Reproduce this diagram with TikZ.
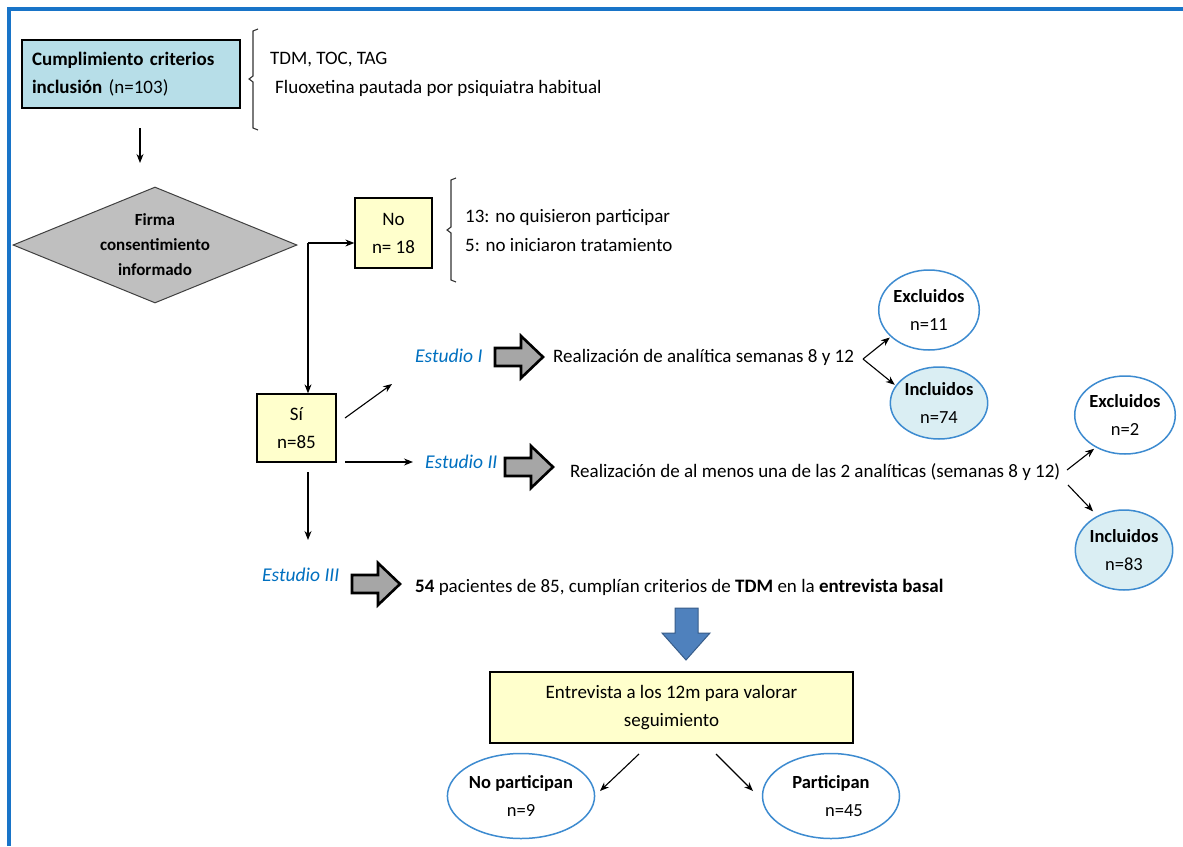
\documentclass[tikz,border=0pt]{standalone}
\usepackage{fontspec}
\setmainfont{Carlito}
\usetikzlibrary{shapes.geometric,arrows.meta}
\definecolor{frameblue}{HTML}{1874C8}
\definecolor{boxblue}{HTML}{B7DEE8}
\definecolor{ylw}{HTML}{FFFFCC}
\definecolor{ellb}{HTML}{3D8BD0}
\definecolor{inclfill}{HTML}{DAEEF3}
\definecolor{estblue}{HTML}{0070C0}
\definecolor{arrgray}{HTML}{A6A6A6}
\definecolor{bluearr}{HTML}{4F81BD}
\definecolor{bluearrb}{HTML}{385D8A}
\definecolor{diagray}{HTML}{BFBFBF}
\tikzset{
  txt/.style={font=\fontsize{19}{28}\selectfont, inner sep=0, align=left},
  ybox/.style={draw, line width=1.3pt, fill=ylw, align=center, inner sep=0,
    font=\fontsize{19}{28}\selectfont},
  ell/.style={ellipse, draw=ellb, line width=1.5pt, fill=white, align=center, inner sep=0,
    font=\fontsize{18.5}{28}\selectfont},
  incl/.style={ell, fill=inclfill},
  arr/.style={-{Stealth[length=9pt,width=7pt]}, line width=1.1pt},
  est/.style={font=\fontsize{19.5}{22}\selectfont\itshape, text=estblue, inner sep=0},
  brace/.style={line width=1.1pt, draw=black!80},
  barrow/.pic={\draw[line width=2.6pt, fill=arrgray, line join=miter]
     (0,-9)--(26,-9)--(26,-21)--(48,0)--(26,21)--(26,9)--(0,9)--cycle;}
}
\begin{document}
\begin{tikzpicture}[x=1pt,y=-1pt]
\useasboundingbox[fill=white] (0,0) rectangle (1183,846);
% frame
\draw[frameblue, line width=4pt] (9,846) -- (9,9) -- (1183,9);

% inclusion box
\node[draw, line width=1.3pt, fill=boxblue, text width=198, inner xsep=10, inner ysep=0,
  minimum height=68, align=left, font=\fontsize{19}{28}\selectfont]
  (incl) at (131,74) {\textbf{Cumplimiento criterios}\\\textbf{inclusión} (n=103)};
\draw[brace] (258,29) -- (253,31) -- (253,76) -- (249,79) -- (253,82) -- (253,128) -- (258,130);
\node[txt, anchor=west] (t1) at (270,60) {TDM, TOC, TAG};
\node[txt, anchor=west] (t2) at (275,88) {Fluoxetina pautada por psiquiatra habitual};

% diamond
\node[diamond, aspect=2.4, draw=black!75, line width=1pt, fill=diagray, minimum width=284,
  minimum height=116, inner sep=0, align=center,
  font=\fontsize{17}{25}\selectfont\bfseries] (dia) at (155,245)
  {Firma\\consentimiento\\informado};
\coordinate (a0) at (140,128);
\coordinate (a1) at (140,163);
\draw[arr] (a0) -- (a1);

% No box
\node[ybox, minimum width=77, minimum height=70] (no) at (393.5,233) {No\\n= 18};
\draw[brace] (456,178) -- (451,180) -- (451,227) -- (447,230) -- (451,233) -- (451,280) -- (456,282);
\node[txt, anchor=west] (t3) at (465,217) {13: no quisieron participar};
\node[txt, anchor=west] (t4) at (465,245) {5: no iniciaron tratamiento};

% Si box
\node[ybox, minimum width=79, minimum height=68] (si) at (296.5,428) {Sí\\n=85};
\coordinate (j) at (308,243);
\draw[arr] (j) -- (j -| no.west);
\draw[arr] (j) -- (j |- si.north);

% Estudio I
\coordinate (s1) at (345,418);
\coordinate (e1) at (392,384);
\draw[arr] (s1) -- (e1);
\node[est, anchor=west] (est1) at (415,356) {Estudio I};
\pic at (495,357) {barrow};
\node[txt, anchor=west] (r1) at (553,357) {Realización de analítica semanas 8 y 12};
\node[ell, minimum width=94, minimum height=80] (ex1) at (929,310) {\textbf{Excluidos}\\n=11};
\node[incl, minimum width=96, minimum height=72] (in1) at (939,403) {\textbf{Incluidos}\\n=74};
\coordinate (b1) at (863,359);
\draw[arr, shorten >=1pt] (b1) -- (ex1.215);
\draw[arr, shorten >=1pt] (b1) -- (in1.158);

% Estudio II
\coordinate (s2) at (345,462);
\draw[arr] (s2) -- (413,462) coordinate (e2);
\node[est, anchor=west] (est2) at (425,462) {Estudio II};
\pic at (505,467) {barrow};
\node[txt, anchor=west] (r2) at (570,472) {Realización de al menos una de las 2 analíticas (semanas 8 y 12)};
\node[ell, minimum width=96, minimum height=78] (ex2) at (1125,415) {\textbf{Excluidos}\\n=2};
\node[incl, minimum width=95, minimum height=80] (in2) at (1124,550) {\textbf{Incluidos}\\n=83};
\coordinate (b2) at (1067,470);
\coordinate (b3) at (1068,485);
\draw[arr, shorten >=2pt] (b2) -- (ex2.228);
\draw[arr, shorten >=6pt] (b3) -- (in2.128);

% Estudio III
\coordinate (s3) at (308,472);
\draw[arr] (s3) -- (308,540) coordinate (e3);
\node[est, anchor=west] (est3) at (262,575) {Estudio III};
\pic at (352,584) {barrow};
\node[txt, anchor=west] (r3) at (415,587) {\textbf{54} pacientes de 85, cumplían criterios de \textbf{TDM} en la \textbf{entrevista basal}};

% blue arrow
\draw[bluearrb, fill=bluearr, line width=1pt, line join=miter]
  (675,608) -- (698,608) -- (698,633) -- (710,633) -- (686,660) -- (662,633) -- (675,633) -- cycle;

% interview box
\node[ybox, minimum width=363, minimum height=71] (ent) at (671.5,707.5)
  {Entrevista a los 12m para valorar\\seguimiento};
\node[ell, minimum width=137, minimum height=85] (np) at (521,796) {\textbf{No participan}\\n=9};
\node[ell, minimum width=137, minimum height=85] (pa) at (831,796) {\textbf{Participan}\\\hspace*{26pt}n=45};
\coordinate (c1) at (639,754);
\coordinate (c1e) at (600,791);
\coordinate (c2) at (716,754);
\coordinate (c2e) at (753,791);
\draw[arr] (c1) -- (c1e);
\draw[arr] (c2) -- (c2e);
\end{tikzpicture}
\end{document}
